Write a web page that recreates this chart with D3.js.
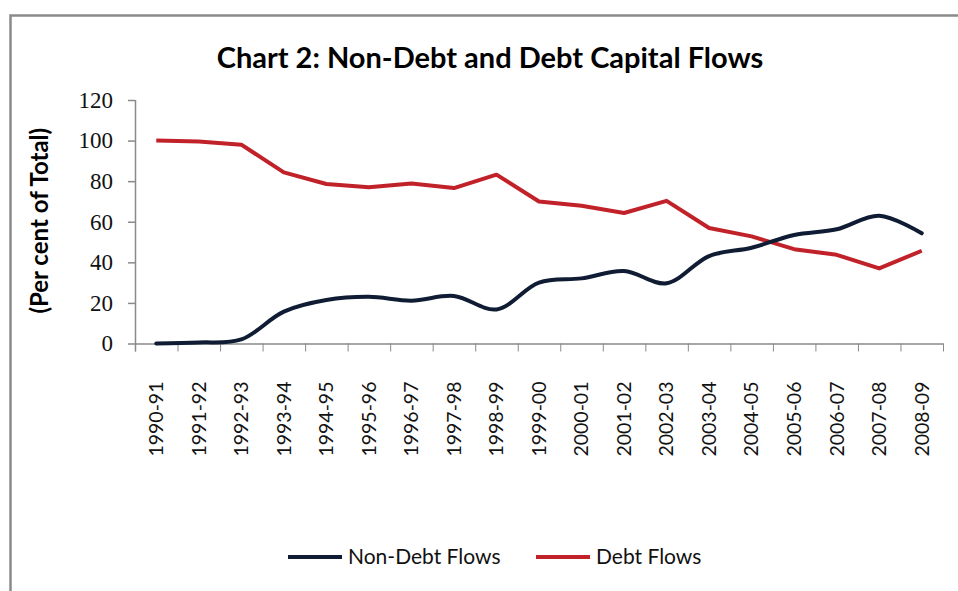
<!DOCTYPE html>
<html>
<head>
<meta charset="utf-8">
<script src="https://cdn.jsdelivr.net/npm/d3@7"></script>
<style>
  body { margin: 0; background: #fff; }
  .chart svg { display: block; }
</style>
</head>
<body>
<div class="chart"></div>
<script>
const years = ['1990-91', '1991-92', '1992-93', '1993-94', '1994-95', '1995-96', '1996-97',
  '1997-98', '1998-99', '1999-00', '2000-01', '2001-02', '2002-03', '2003-04', '2004-05',
  '2005-06', '2006-07', '2007-08', '2008-09']
const nonDebt = [0, 0.5, 2, 15.7, 21.4, 23, 21.1, 23.4, 16.8, 30, 32.1, 35.7, 29.7, 43.1, 47.2, 53.5, 56.3, 63, 54.3]
const debt = [100, 99.5, 98, 84.3, 78.6, 77, 78.9, 76.6, 83.2, 70, 67.9, 64.3, 70.3, 56.9, 52.8, 46.5, 43.7, 37, 45.7]
const yTicks = [0, 20, 40, 60, 80, 100, 120]

// SETUP
// ----------------------------
const fullWidth = 958
const fullHeight = 591
const margin = { top: 100, left: 135, right: 15, bottom: 247.5 }
const width = fullWidth - margin.left - margin.right
const height = fullHeight - margin.top - margin.bottom

const root = d3.select('.chart')
  .append('svg')
    .attr('width', fullWidth)
    .attr('height', fullHeight)

// outer frame
root.append('path')
  .attr('d', `M10.5,${fullHeight} V15.5 H${fullWidth}`)
  .attr('fill', 'none')
  .attr('stroke', '#8a8a8a')
  .attr('stroke-width', 2.5)

root.append('text')
  .attr('x', 490)
  .attr('y', 68)
  .attr('text-anchor', 'middle')
  .style('font-family', 'Lato, sans-serif')
  .style('font-weight', 'bold')
  .style('font-size', '29px')
  .text('Chart 2: Non-Debt and Debt Capital Flows')

const svg = root.append('g')
  .attr('transform', `translate(${margin.left}, ${margin.top})`)

// SCALES and AXES
// ----------------------------
const xScale = d3.scaleBand()
  .domain(years)
  .range([0, width])
const yScale = d3.scaleLinear()
  .domain([0, 120])
  .range([height, 0])

const yAxis = d3.axisLeft(yScale)
  .tickValues(yTicks)
  .tickSize(7)
  .tickSizeOuter(0)
  .tickPadding(15)
const gy = svg.append('g').call(yAxis)
gy.select('.domain').attr('d', `M0.5,${height + 8} V0`)
gy.selectAll('text')
  .style('font-family', '"Liberation Serif", serif')
  .style('font-size', '23px')
  .attr('fill', '#111')

// x ticks sit on band boundaries
const xAxis = d3.axisBottom(xScale)
  .tickSize(0)
  .tickPadding(38)
const gx = svg.append('g')
  .attr('transform', `translate(0, ${height})`)
  .call(xAxis)
gx.selectAll('text')
  .attr('transform', 'rotate(-90)')
  .attr('x', -38)
  .attr('y', 0)
  .attr('dy', '0.35em')
  .style('text-anchor', 'end')
  .style('font-family', 'Lato, sans-serif')
  .style('font-size', '19.5px')
  .attr('fill', '#111')
gx.selectAll('.bound')
  .data(d3.range(years.length + 1))
  .enter()
  .append('line')
    .attr('x1', i => i * xScale.bandwidth() + 0.5)
    .attr('x2', i => i * xScale.bandwidth() + 0.5)
    .attr('y1', 0)
    .attr('y2', 8)
    .attr('stroke', '#8a8a8a')

svg.selectAll('.domain, .tick line').attr('stroke', '#8a8a8a').attr('stroke-width', 1.5)

svg.append('text')
  .attr('transform', `translate(${40 - margin.left}, ${yScale(60) - 1}) rotate(-90)`)
  .attr('text-anchor', 'middle')
  .attr('dy', '0.35em')
  .style('font-family', 'Lato, sans-serif')
  .style('font-weight', 'bold')
  .style('font-size', '24px')
  .text('(Per cent of Total)')

// LINES
// ----------------------------
const cx = i => xScale(years[i]) + xScale.bandwidth() / 2
const smooth = d3.line().x((d, i) => cx(i)).y(d => yScale(d)).curve(d3.curveCatmullRom.alpha(0.5))
const straight = d3.line().x((d, i) => cx(i)).y(d => yScale(d))

svg.append('path')
  .attr('d', straight(debt))
  .attr('fill', 'none')
  .attr('stroke', '#c1222a')
  .attr('stroke-width', 4)
  .attr('stroke-linejoin', 'round')

svg.append('path')
  .attr('d', smooth(nonDebt))
  .attr('fill', 'none')
  .attr('stroke', '#0f1c33')
  .attr('stroke-width', 4)
  .attr('stroke-linecap', 'round')

// LEGEND
// ----------------------------
const legend = [
  { name: 'Non-Debt Flows', color: '#0f1c33', x: 288 },
  { name: 'Debt Flows', color: '#c1222a', x: 536 }
]
const lg = root.selectAll('.legend')
  .data(legend)
  .enter()
  .append('g')
    .attr('transform', d => `translate(${d.x}, 557)`)
lg.append('line')
  .attr('x1', 0).attr('x2', 54)
  .attr('stroke', d => d.color)
  .attr('stroke-width', 4)
lg.append('text')
  .attr('x', 60)
  .attr('dy', '0.35em')
  .style('font-family', 'Lato, sans-serif')
  .style('font-size', '21px')
  .attr('fill', '#111')
  .text(d => d.name)
</script>
</body>
</html>
